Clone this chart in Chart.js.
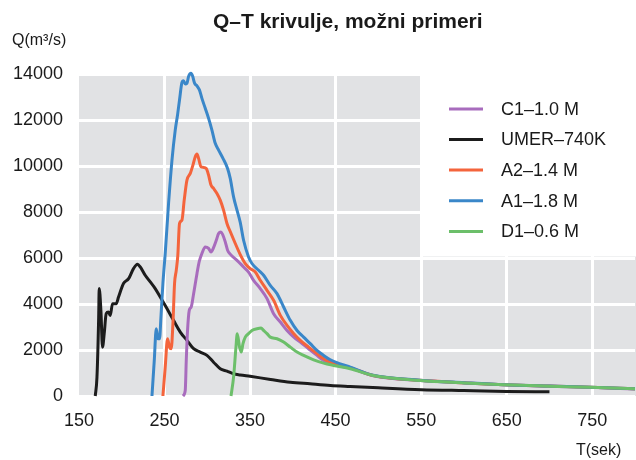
<!DOCTYPE html>
<html><head><meta charset="utf-8">
<script src="https://cdn.jsdelivr.net/npm/chart.js@4.4.1/dist/chart.umd.min.js"></script>
<style>html,body{margin:0;padding:0;background:#fff}#wrap{width:636px;height:460px;position:relative}</style>
</head><body><div id="wrap"><canvas id="c" width="636" height="460"></canvas></div>
<script>
const chartTitle = 'Q–T krivulje, možni primeri';
const yAxisTitle = 'Q(m³/s)';
const xAxisTitle = 'T(sek)';
const xTicks = [150, 250, 350, 450, 550, 650, 750];
const yTicks = [0, 2000, 4000, 6000, 8000, 10000, 12000, 14000];
const seriesNames = ['C1–1.0 M', 'UMER–740K', 'A2–1.4 M', 'A1–1.8 M', 'D1–0.6 M'];

const c1T = [271.5,274.2,275.4,276.9,278.9,281.2,284,287.9,290.6,293.7,297.6,301.5,304.3,307.3,310.5,313.2,316,318.3,321,323.7,326.8,334.7,342.4,348.2,354.1,361.9,369.8,377.5,385.4,393.2,401.1,408.7,418.4,428.2,436,443.8,455.5,467.2,494,549,600,647,700,748,800];
const c1Q = [0,240,1545,2850,3720,3870,4450,5320,5850,6200,6480,6420,6260,6450,6770,7065,7135,6990,6700,6340,6170,5900,5610,5390,5030,4670,4235,3580,3215,2850,2560,2345,2055,1765,1545,1430,1300,1210,880,675,570,485,425,375,300];

const umerT = [169,171,173,173.6,175.6,177.5,179.5,181.8,184.5,186.5,189.2,193.5,196.2,202,208,213.7,218.4,221.6,227.4,233.3,239.1,245,252.8,260.5,268.4,276.2,284,291.8,299.6,307.3,315.1,323,330.7,338.5,350,374,397,420,444,467,500,550,600,650,700];
const umerQ = [0,820,3430,4670,3720,2125,2720,3580,3650,3500,4015,4015,4300,4890,5100,5540,5730,5610,5250,4960,4670,4300,3800,3290,2780,2420,2055,1910,1765,1470,1185,1080,967,915,855,720,600,530,460,415,355,275,235,200,185];

const a2T = [248.1,250.8,253.5,255.8,257.8,259.8,261.7,263.7,265.5,267.5,270.3,273,276.2,280.1,283.2,285.9,287.9,289.8,292.6,295.6,298.8,301.5,304.3,307.3,311.3,315.1,319,323,326.8,332.7,338.5,344.4,350.2,356.1,361.9,369.8,377.5,385.4,393.2,401.1,408.7,418.4,428.2,436,443.8,455.5,467.2,494,549,600,647,700,748,800];
const a2Q = [0,1255,2490,2125,2055,3145,4890,5465,6100,7500,7645,8515,9385,9680,10040,10400,10520,10330,9965,9940,9895,9600,9170,9025,8805,8515,8080,7500,7150,6630,6150,5760,5540,5390,5030,4595,4160,3505,3070,2710,2417,2125,1840,1620,1470,1330,1230,890,680,575,488,430,380,315];

const a1T = [235.3,238,240.3,242.3,244.2,245.8,248.1,250.8,254.7,258.7,262.5,265.2,267.5,270.3,272.2,274.2,276.2,278.1,280.9,282.8,285.1,287.9,290.9,293.7,297.6,301.5,305.4,309.3,313.2,318.3,323.7,326.8,330.7,334.7,338.5,342.4,348.2,352.2,360,365.8,373.6,381.5,389.2,397,404.9,412.6,420.4,428.2,436,443.8,455.5,467.2,494,549,600,647,700,748,800];
const a1Q = [0,1545,2925,2490,2490,3430,4890,6200,8370,10260,11560,12220,12870,13620,13710,13570,13600,13890,14030,13910,13600,13480,13300,12940,12510,12070,11560,10985,10690,10330,9895,9460,8660,8080,7550,6770,6045,5760,5465,5250,4810,4450,3870,3290,2850,2560,2275,1980,1765,1575,1400,1255,900,690,580,490,430,380,315];

const d1T = [327.7,330.7,333.5,335,337.7,339.7,341.7,344.4,348.2,352.2,358.1,362.8,365.8,369.8,373.6,381.5,389.2,397,404.9,412.6,424.3,436,447.6,467.2,494,549,600,647,700,748,800];
const d1Q = [0,820,2125,2710,2125,1910,2275,2560,2710,2850,2925,2955,2850,2710,2560,2490,2345,2125,1910,1765,1575,1430,1330,1185,890,675,570,488,428,380,315];

const colors = ['#a86cbd', '#1c1c1c', '#f4643c', '#3a87c9', '#6cbf6a'];
const drawOrder = [3, 4, 2, 1, 0];
const FONT = '"Liberation Sans", Arial, Helvetica, sans-serif';
const TXT = '#1a1a1a';

const pairs = [[c1T, c1Q], [umerT, umerQ], [a2T, a2Q], [a1T, a1Q], [d1T, d1Q]];
const datasets = pairs.map((p, i) => ({
  label: seriesNames[i],
  data: p[0].map((t, k) => ({x: t, y: p[1][k]})),
  borderColor: colors[i],
  backgroundColor: colors[i],
  borderWidth: 3,
  pointRadius: 0,
  fill: false,
  cubicInterpolationMode: 'monotone',
  clip: false,
  order: drawOrder[i]
}));

function fitText(ctx, text, x, y, targetW) {
  const w = ctx.measureText(text).width;
  const s = Math.min(1, targetW / w);
  ctx.save();
  ctx.translate(x, y);
  ctx.scale(s, 1);
  ctx.fillText(text, 0, 0);
  ctx.restore();
}

const decor = {
  id: 'decor',
  beforeDraw(chart) {
    const {ctx, chartArea: a} = chart;
    ctx.save();
    ctx.fillStyle = '#fff';
    ctx.fillRect(0, 0, chart.width, chart.height);
    ctx.fillStyle = '#e1e2e4';
    ctx.fillRect(a.left, a.top, a.right - a.left + 2, a.bottom - a.top);
    ctx.restore();
  },
  beforeDatasetsDraw(chart) {
    const ctx = chart.ctx;
    ctx.save();
    ctx.fillStyle = '#fff';
    ctx.fillRect(420, 68, 216, 188.5);
    ctx.restore();
  },
  afterDraw(chart) {
    const ctx = chart.ctx;
    ctx.save();
    ctx.fillStyle = TXT;
    ctx.textBaseline = 'alphabetic';
    ctx.textAlign = 'left';
    ctx.font = 'bold 21px ' + FONT;
    fitText(ctx, chartTitle, 213, 28, 273);
    ctx.font = '16px ' + FONT;
    fitText(ctx, yAxisTitle, 12, 45, 56);
    ctx.font = '16px ' + FONT;
    fitText(ctx, xAxisTitle, 576, 455, 46);
    // legend
    const rows = [109, 139.5, 170, 200.7, 231.5];
    ctx.font = '18px ' + FONT;
    ctx.textBaseline = 'middle';
    chart.data.datasets.forEach((ds, i) => {
      const y = rows[i];
      ctx.strokeStyle = ds.borderColor;
      ctx.lineWidth = 3;
      ctx.beginPath();
      ctx.moveTo(449, y);
      ctx.lineTo(483, y);
      ctx.stroke();
      ctx.fillStyle = TXT;
      ctx.fillText(ds.label, 501, y + 1);
    });
    ctx.restore();
  }
};

new Chart(document.getElementById('c'), {
  type: 'line',
  data: {datasets},
  options: {
    responsive: false,
    devicePixelRatio: 1,
    animation: false,
    layout: {padding: {top: 74, right: 1, bottom: 0, left: 0}},
    plugins: {legend: {display: false}, title: {display: false}, tooltip: {enabled: false}},
    scales: {
      x: {
        type: 'linear', min: 150, max: 800,
        afterBuildTicks: s => { s.ticks = xTicks.map(v => ({value: v})); },
        afterFit: s => { s.height = 64; },
        grid: {
          color: c => (c.tick && c.tick.value === 150) ? 'rgba(0,0,0,0)' : '#ffffff',
          lineWidth: 3, drawTicks: false
        },
        border: {display: false},
        ticks: {font: {family: FONT, size: 18}, color: TXT, padding: 14, autoSkip: false, maxRotation: 0,
                callback: v => String(v)}
      },
      y: {
        type: 'linear', min: 0, max: 14000,
        afterBuildTicks: s => { s.ticks = yTicks.map(v => ({value: v})); },
        afterFit: s => { s.width = 79; },
        grid: {color: '#ffffff', lineWidth: 3, drawTicks: false},
        border: {display: false},
        ticks: {font: {family: FONT, size: 18}, color: TXT, padding: 16, callback: v => String(v)}
      }
    }
  },
  plugins: [decor]
});
</script>
</body></html>
